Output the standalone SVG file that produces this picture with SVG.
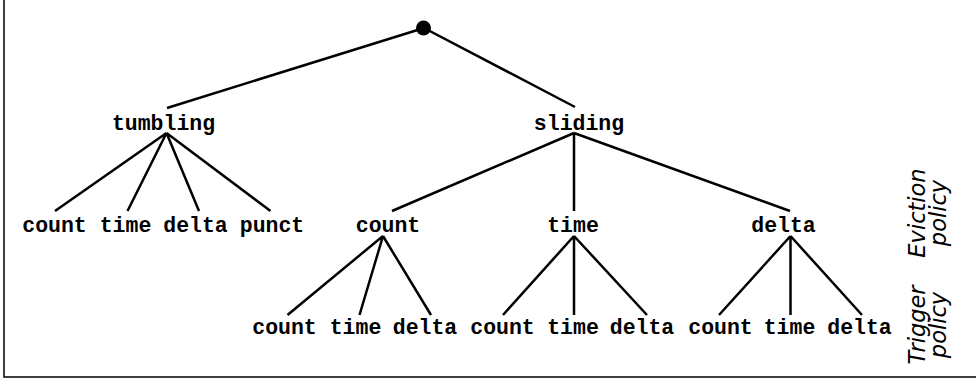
<svg xmlns="http://www.w3.org/2000/svg" width="976" height="379" viewBox="0 0 976 379">
<style>
.lbl{font-family:"Liberation Mono","Courier New",monospace;font-weight:bold;font-size:21.5px;fill:#000;text-anchor:middle}
.side{font-family:"DejaVu Sans",Verdana,sans-serif;font-style:italic;font-size:22.5px;fill:#000;text-anchor:middle}
.edge{stroke:#000;stroke-width:2.5;fill:none;stroke-linecap:butt}
</style>
<rect x="0" y="0" width="976" height="379" fill="#fff"/>
<rect x="4" y="-5" width="990" height="382" fill="none" stroke="#000" stroke-width="1.5"/>
<g id="connectors" class="edge">
<path d="M424 28 L167 108 M424 28 L575 107"/>
<path d="M166.5 133 L55 211 M166.5 133 L127.5 211 M166.5 133 L199 211 M166.5 133 L270.5 211"/>
<path d="M574 133 L392 211 M574 133 L574 211 M574 133 L790 211"/>
<path d="M383 236 L287.5 315 M383 236 L359.5 315 M383 236 L431 315"/>
<path d="M574 236 L503 315 M574 236 L574 315 M574 236 L647 315"/>
<path d="M790.5 236 L719 315 M790.5 236 L790.5 315 M790.5 236 L862 315"/>
</g>
<g id="root"><circle cx="423.5" cy="28" r="7.5" fill="#000"/></g>
<g id="tumbling"><text class="lbl" x="163.5" y="130">tumbling</text></g>
<g id="sliding"><text class="lbl" x="579" y="130">sliding</text></g>
<g id="t-count"><text class="lbl" x="54.5" y="232">count</text></g>
<g id="t-time"><text class="lbl" x="125.5" y="232">time</text></g>
<g id="t-delta"><text class="lbl" x="195.5" y="232">delta</text></g>
<g id="t-punct"><text class="lbl" x="272" y="232">punct</text></g>
<g id="s-count"><text class="lbl" x="388" y="232">count</text></g>
<g id="s-time"><text class="lbl" x="573" y="232">time</text></g>
<g id="s-delta"><text class="lbl" x="783.5" y="232">delta</text></g>
<g id="c-count"><text class="lbl" x="284.5" y="334">count</text></g>
<g id="c-time"><text class="lbl" x="355.5" y="334">time</text></g>
<g id="c-delta"><text class="lbl" x="425" y="334">delta</text></g>
<g id="ti-count"><text class="lbl" x="502.5" y="334">count</text></g>
<g id="ti-time"><text class="lbl" x="573" y="334">time</text></g>
<g id="ti-delta"><text class="lbl" x="642" y="334">delta</text></g>
<g id="d-count"><text class="lbl" x="720.5" y="334">count</text></g>
<g id="d-time"><text class="lbl" x="789.5" y="334">time</text></g>
<g id="d-delta"><text class="lbl" x="859.5" y="334">delta</text></g>
<g id="eviction-label">
<text class="side" transform="translate(925 213) rotate(-90)">Eviction</text>
<text class="side" transform="translate(946 213) rotate(-90)">policy</text>
</g>
<g id="trigger-label">
<text class="side" transform="translate(925 325) rotate(-90)">Trigger</text>
<text class="side" transform="translate(946 325) rotate(-90)">policy</text>
</g>
</svg>
